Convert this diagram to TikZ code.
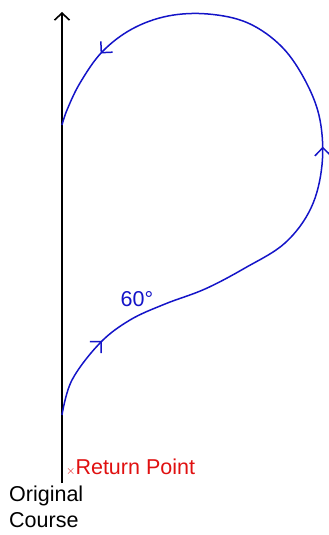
\documentclass[tikz,border=0pt]{standalone}
\usepackage{fontspec}
\setmainfont{Liberation Sans}
\usetikzlibrary{arrows.meta,positioning,decorations.markings}
\definecolor{PathBlue}{HTML}{1414C8}
\definecolor{PointRed}{HTML}{E01010}
\tikzset{
  course/.style={line width=1.6pt,black,-{Straight Barb[length=7pt,width=15pt]}},
  turnpath/.style={line width=1.5pt,PathBlue,
    postaction={decorate},
    decoration={markings,
      mark=at position 0.108 with {\arrow{Straight Barb[length=8pt,width=16pt]}},
      mark=at position 0.505 with {\arrow{Straight Barb[length=8pt,width=16pt]}},
      mark=at position 0.897 with {\arrow{Straight Barb[length=8pt,width=16pt]}}}},
  LB/.style={font=\fontsize{21.5}{26}\selectfont},
}

\begin{document}
\begin{tikzpicture}[x=1pt,y=-1pt]
  \useasboundingbox (0,0) rectangle (329,535);
  \coordinate (base) at (62,483);
  \coordinate (top) at (62,12);
  \coordinate (leave) at (62,415);
  \coordinate (rejoin) at (62,125);

  \draw[course] (base) -- (top);

  \draw[turnpath] plot[smooth,tension=0.6] coordinates {
    (leave) (72,380) (100,343) (130,320) (165,304) (205,289) (245,268)
    (285,243) (311,208) (322,165) (320,120) (306,82) (282,47) (248,23)
    (208,14) (168,16) (132,29) (102,52) (80,83) (67,110) (rejoin)};

  \node[LB,text=PathBlue,anchor=south,inner sep=0pt] (angle) at (137,307) {60°};
  \node[LB,text=PointRed,anchor=west,inner sep=0pt] (ret) at (66,467) {\fontsize{13}{13}\selectfont$\times$\fontsize{21.5}{26}\selectfont Return Point};
  \node[LB,anchor=north west,align=left,inner sep=0pt] (orig) at (9,486) {Original\\Course};
\end{tikzpicture}
\end{document}
